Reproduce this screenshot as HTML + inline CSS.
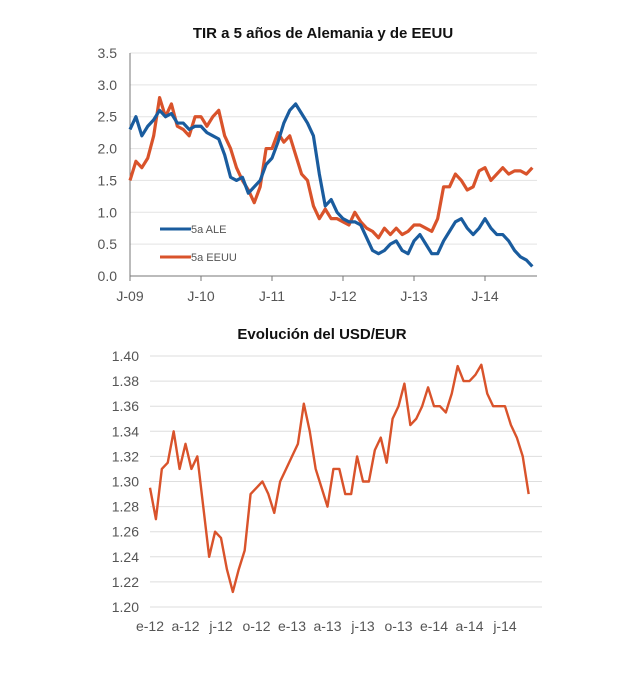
<!DOCTYPE html>
<html><head><meta charset="utf-8"><style>
body{margin:0;background:#fff;}
svg text{font-family:"Liberation Sans",Arial,sans-serif;}
</style></head><body>
<svg width="638" height="671" xmlns="http://www.w3.org/2000/svg">
<g id="top"></g>
<g id="bot"></g>
</svg>
<script>
const yTicksTop = [0,0.5,1,1.5,2,2.5,3,3.5];
const yTickLabelsTop = ["0.0","0.5","1.0","1.5","2.0","2.5","3.0","3.5"];
const xLabelsTop = ["J-09","J-10","J-11","J-12","J-13","J-14"];
const ale = [2.3,2.5,2.2,2.35,2.45,2.6,2.5,2.55,2.4,2.4,2.3,2.35,2.35,2.25,2.2,2.15,1.9,1.55,1.5,1.55,1.3,1.4,1.5,1.75,1.85,2.1,2.4,2.6,2.7,2.55,2.4,2.2,1.6,1.1,1.2,1.0,0.9,0.85,0.85,0.8,0.6,0.4,0.35,0.4,0.5,0.55,0.4,0.35,0.55,0.65,0.5,0.35,0.35,0.55,0.7,0.85,0.9,0.75,0.65,0.75,0.9,0.75,0.65,0.65,0.55,0.4,0.3,0.25,0.15];
const eeuu = [1.5,1.8,1.7,1.85,2.2,2.8,2.5,2.7,2.35,2.3,2.2,2.5,2.5,2.35,2.5,2.6,2.2,2.0,1.7,1.5,1.35,1.15,1.4,2.0,2.0,2.25,2.1,2.2,1.9,1.6,1.5,1.1,0.9,1.05,0.9,0.9,0.85,0.8,1.0,0.85,0.75,0.7,0.6,0.75,0.65,0.75,0.65,0.7,0.8,0.8,0.75,0.7,0.9,1.4,1.4,1.6,1.5,1.35,1.4,1.65,1.7,1.5,1.6,1.7,1.6,1.65,1.65,1.6,1.7];
const yTicksBot = [1.20,1.22,1.24,1.26,1.28,1.30,1.32,1.34,1.36,1.38,1.40];
const xLabelsBot = ["e-12","a-12","j-12","o-12","e-13","a-13","j-13","o-13","e-14","a-14","j-14"];
const usdeur = [1.295,1.27,1.31,1.315,1.34,1.31,1.33,1.31,1.32,1.28,1.24,1.26,1.255,1.23,1.212,1.23,1.245,1.29,1.295,1.30,1.29,1.275,1.30,1.31,1.32,1.33,1.362,1.34,1.31,1.295,1.28,1.31,1.31,1.29,1.29,1.32,1.30,1.30,1.325,1.335,1.315,1.35,1.36,1.378,1.345,1.35,1.36,1.375,1.36,1.36,1.355,1.37,1.392,1.38,1.38,1.385,1.393,1.37,1.36,1.36,1.36,1.345,1.335,1.32,1.29];

const NS="http://www.w3.org/2000/svg";
function mk(parent,tag,attrs,text){const e=document.createElementNS(NS,tag);for(const k in attrs)e.setAttribute(k,attrs[k]);if(text!==undefined)e.textContent=text;parent.appendChild(e);return e;}

const T=document.getElementById('top');
const tx=m=>130+m*(71/12);
const ty=v=>276-v*(223/3.5);
let e=mk(T,'text',{x:323,y:38,'text-anchor':'middle','font-size':15,'font-weight':'bold',fill:'#111'},'TIR a 5 años de Alemania  y de EEUU');


yTicksTop.forEach((v,i)=>{
  if(i>0){const g=mk(T,'line',{x1:130,x2:537,y1:ty(v),y2:ty(v),stroke:'#e3e3e3','stroke-width':1});
  
  }
  const t=mk(T,'text',{x:117,y:ty(v)+5,'text-anchor':'end','font-size':14,fill:'#555'},yTickLabelsTop[i]);
  
  
});
xLabelsTop.forEach((l,i)=>{
  const x=tx(i*12);
  mk(T,'line',{x1:x,x2:x,y1:276,y2:281,stroke:'#777'});
  const t=mk(T,'text',{x:x,y:301,'text-anchor':'middle','font-size':14,fill:'#555'},l);
  
  
});
e=mk(T,'line',{x1:130,x2:130,y1:53,y2:276,stroke:'#777'});


e=mk(T,'line',{x1:130,x2:537,y1:276,y2:276,stroke:'#777'});


e=mk(T,'polyline',{points:eeuu.map((v,i)=>tx(i)+','+ty(v)).join(' '),fill:'none',stroke:'#d9532b','stroke-width':3.2,'stroke-linejoin':'round'});


e=mk(T,'polyline',{points:ale.map((v,i)=>tx(i)+','+ty(v)).join(' '),fill:'none',stroke:'#1a5c9e','stroke-width':3.2,'stroke-linejoin':'round'});


[['5a ALE','#1a5c9e',229],['5a EEUU','#d9532b',257]].forEach(([n,c,y])=>{
  const g=mk(T,'g',{});
  
  
  mk(g,'line',{x1:160,x2:191,y1:y,y2:y,stroke:c,'stroke-width':3});
  mk(g,'text',{x:191,y:y+4,'font-size':11,fill:'#555'},n);
});

const B=document.getElementById('bot');
const bx=i=>150+i*(284/48);
const by=v=>607-(v-1.2)*(251/0.2);
e=mk(B,'text',{x:322,y:339,'text-anchor':'middle','font-size':15,'font-weight':'bold',fill:'#111'},'Evolución del USD/EUR');


yTicksBot.forEach(v=>{
  const g=mk(B,'line',{x1:150,x2:542,y1:by(v),y2:by(v),stroke:'#dedede','stroke-width':1});
  
  
  const t=mk(B,'text',{x:139,y:by(v)+5,'text-anchor':'end','font-size':14,fill:'#555'},v.toFixed(2));
  
  
});
xLabelsBot.forEach((l,i)=>{
  const t=mk(B,'text',{x:bx(i*6),y:631,'text-anchor':'middle','font-size':14,fill:'#555'},l);
  
  
});
e=mk(B,'polyline',{points:usdeur.map((v,i)=>bx(i)+','+by(v)).join(' '),fill:'none',stroke:'#d9532b','stroke-width':2.4,'stroke-linejoin':'round'});


</script>
</body></html>
